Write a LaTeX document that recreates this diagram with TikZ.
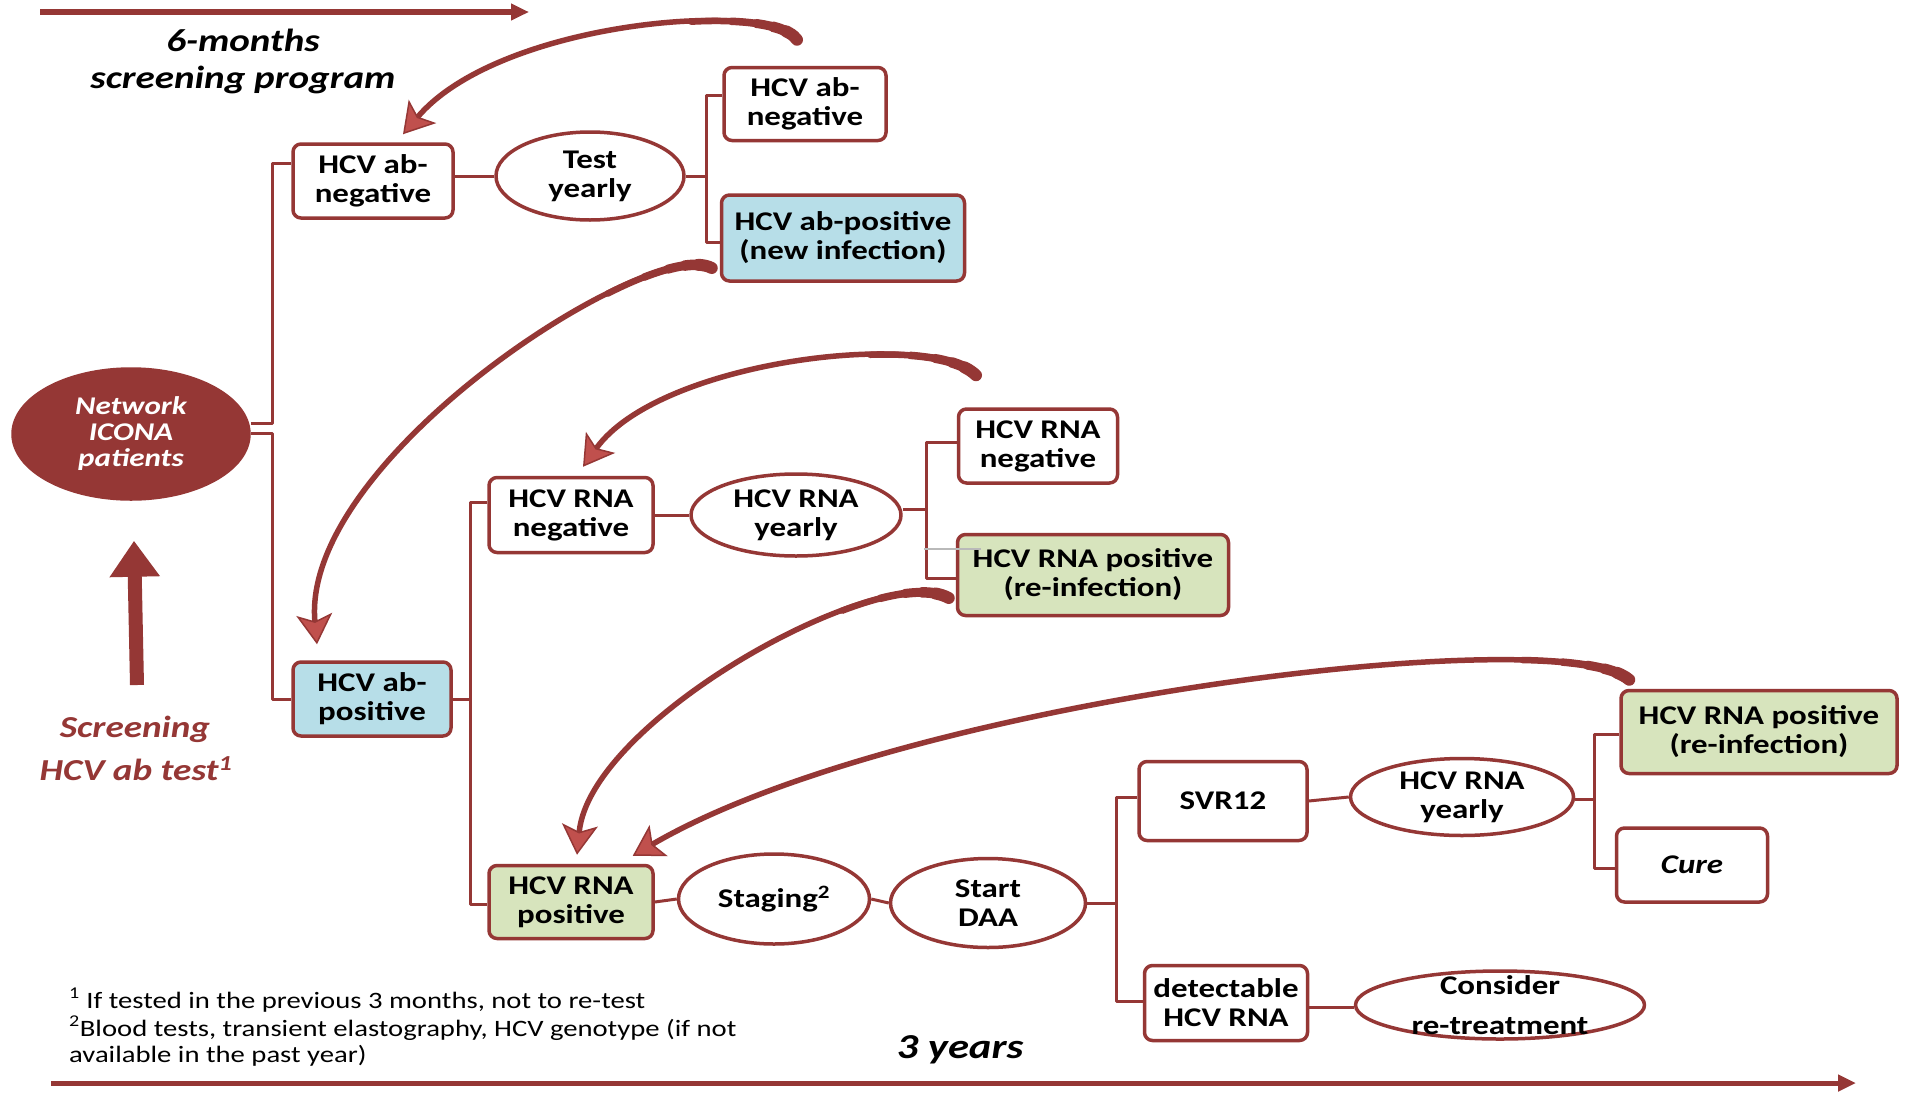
\documentclass[tikz,border=0pt]{standalone}
\usepackage{fontspec}
\setmainfont{Carlito}[FakeStretch=1.22]
\usepackage{tikz}
\usetikzlibrary{arrows.meta,shapes.geometric}
\definecolor{icona}{HTML}{953735}
\definecolor{icohead}{HTML}{C0504D}
\definecolor{abblue}{HTML}{B7DEE8}
\definecolor{rnagreen}{HTML}{D7E4BD}
\newcommand{\hcvfont}{\bfseries\fontsize{27}{29}\selectfont}
\tikzset{
  every picture/.style={line join=round, >=Stealth},
  box/.style={draw=icona, line width=3.5pt, rounded corners=8pt, fill=white, align=center, inner sep=3pt, font=\hcvfont},
  oval/.style={ellipse, draw=icona, line width=3.5pt, fill=white, align=center, inner sep=0pt, font=\hcvfont},
  link/.style={draw=icona, line width=3pt},
  tailpart/.style 2 args={preaction={draw=icona, -, line width=#1, line cap=round, dash pattern=on #2 off 4000pt}},
  bigarrow/.style={draw=icona, line width=5.5pt, line cap=butt, -{Stealth[length=30pt,width=36pt,inset=7pt,fill=icohead,line width=1.5pt]},
    tailpart={12pt}{14pt}, tailpart={10.5pt}{28pt}, tailpart={9pt}{45pt},
    tailpart={7.5pt}{70pt}, tailpart={6.5pt}{110pt}},
  timeline/.style={draw=icona, line width=5pt, -{Triangle[length=18pt,width=16pt]}},
  note/.style={anchor=base west, inner sep=0pt, font=\fontsize{23.5}{28}\selectfont},
}

\begin{document}
\begin{tikzpicture}[x=1pt,y=-1pt]
\useasboundingbox (0,0) rectangle (1908,1095);
\fill[white] (0,0) rectangle (1908,1095);
% time lines
\coordinate (top0) at (40,12);
\coordinate (top1) at (529,12);
\coordinate (bot0) at (51,1083);
\coordinate (bot1) at (1856,1083);
\draw[timeline, line width=6pt] (top0) -- (top1);
\draw[timeline] (bot0) -- (bot1);
\node[font=\bfseries\itshape\fontsize{32}{37}\selectfont, align=center] (sixmonths) at (243,61) {6-months\\screening program};
\node[anchor=base, font=\bfseries\itshape\fontsize{35}{38}\selectfont] (threeyears) at (960,1058) {3 years};
% start
\node[oval, fill=icona, text=white, minimum width=236pt, minimum height=130pt, font=\bfseries\itshape\fontsize{25.5}{26}\selectfont] (net) at (131,434) {Network\\ICONA\\patients};
\coordinate (scrbase) at (137,685);
\draw[draw=icona, line width=14pt, -{Triangle[length=36pt,width=48pt]}] (scrbase) -- ([shift={(3,40)}]net.south);
\node[anchor=base, text=icona, font=\bfseries\itshape\fontsize{30.5}{32}\selectfont] (screen1) at (135,737) {Screening};
\node[anchor=base, text=icona, font=\bfseries\itshape\fontsize{30.5}{32}\selectfont] (screen2) at (136,780) {HCV ab test\textsuperscript{1}};
% HCV ab branch
\node[box, minimum width=160pt, minimum height=74pt] (abneg) at (373,181) {HCV ab-\\negative};
\node[oval, minimum width=188pt, minimum height=88pt] (test) at (590,176) {Test\\yearly};
\node[box, minimum width=162pt, minimum height=73pt] (abneg2) at (805,104) {HCV ab-\\negative};
\node[box, fill=abblue, minimum width=243pt, minimum height=86pt] (abnew) at (843,238) {HCV ab-positive\\(new infection)};
\node[box, fill=abblue, minimum width=158pt, minimum height=74pt] (abpos) at (372,699) {HCV ab-\\positive};
% HCV RNA branch
\node[box, minimum width=164pt, minimum height=75pt] (rnaneg) at (571,515) {HCV RNA\\negative};
\node[oval, minimum width=210pt, minimum height=82pt] (rnayr) at (796,515) {HCV RNA\\yearly};
\node[box, minimum width=159pt, minimum height=74pt] (rnaneg2) at (1038,446) {HCV RNA\\negative};
\node[box, fill=rnagreen, minimum width=271pt, minimum height=81pt] (rnare) at (1093,575) {HCV RNA positive\\(re-infection)};
\node[box, fill=rnagreen, minimum width=164pt, minimum height=73pt] (rnapos) at (571,902) {HCV RNA\\positive};
% treatment
\node[oval, minimum width=191pt, minimum height=90pt] (staging) at (774,899) {Staging\textsuperscript{2}};
\node[oval, minimum width=195pt, minimum height=89pt] (daa) at (988,903) {Start\\DAA};
\node[box, minimum width=168pt, minimum height=79pt] (svr) at (1223,801) {SVR12};
\node[box, minimum width=163pt, minimum height=75pt] (detect) at (1226,1003) {detectable\\HCV RNA};
\node[oval, minimum width=223pt, minimum height=77pt] (svryr) at (1462,797) {HCV RNA\\yearly};
\node[oval, minimum width=289pt, minimum height=68pt, inner ysep=-6pt, font=\bfseries\fontsize{27}{40}\selectfont] (retreat) at (1500,1005) {Consider\\re-treatment};
\node[box, fill=rnagreen, minimum width=276pt, minimum height=83pt] (svrre) at (1759,732) {HCV RNA positive\\(re-infection)};
\node[box, minimum width=151pt, minimum height=74pt] (cure) at (1692,865) {\textit{Cure}};
% connectors
\draw[link] ([yshift=11pt]net.east) -- ++(22,0) |- ([yshift=18pt]abneg.west);
\draw[link] ([yshift=1pt]net.east) -- ++(22,0) |- (abpos.west);
\draw[link] (abneg.east |- test) -- (test.west);
\draw[link] (test.east) -- ++(21,0) coordinate (j1);
\draw[link] ([yshift=9pt]abneg2.west) -| (j1) |- ([yshift=-4pt]abnew.west);
\draw[link] (abpos.east) -- ++(18,0) coordinate (j2);
\draw[link] ([yshift=13pt]rnaneg.west) -| (j2) |- ([yshift=-2pt]rnapos.west);
\draw[link] (rnaneg.east) -- (rnayr.west);
\draw[link] ([yshift=6pt]rnayr.east) -- ++(24,0) coordinate (j3);
\draw[link] ([yshift=4pt]rnaneg2.west) -| (j3) |- ([yshift=-3pt]rnare.west);
\draw[link] (rnapos.east) -- (staging.west);
\draw[link] (staging.east) -- (daa.west);
\draw[link] (daa.east) -- ++(29,0) coordinate (j4);
\draw[link] ([yshift=4pt]svr.west) -| (j4) |- ([yshift=2pt]detect.west);
\draw[link] (svr.east) -- (svryr.west);
\draw[link] ([yshift=-4pt]detect.east) -- ([yshift=-2pt]retreat.west);
\draw[link] ([yshift=-2pt]svryr.east) -- ++(19,0) coordinate (j5);
\draw[link] ([yshift=-2pt]svrre.west) -| (j5) |- ([yshift=-3pt]cure.west);
\draw[gray!55, line width=1.5pt] (924,549) -- (981,549);
% loops back
\draw[bigarrow] ([shift={(-8,-26)}]abneg2.north) .. controls +(-27,-40) and +(97,-114) .. ([shift={(30,-8)}]abneg.north);
\draw[bigarrow] ([shift={(-8,30)}]abnew.west) .. controls +(-62,-33) and +(-17,-185) .. ([shift={(-55,-16)}]abpos.north);
\draw[bigarrow] ([shift={(-62,-32)}]rnaneg2.north) .. controls +(-46,-46) and +(77,-107) .. ([shift={(12,-9)}]rnaneg.north);
\draw[bigarrow] ([shift={(-7,23)}]rnare.west) .. controls +(-68,-38) and +(13,-135) .. ([shift={(6,-9)}]rnapos.north);
\draw[bigarrow] ([shift={(10,-9)}]svrre.north west) .. controls +(-70,-60) and +(267,-156) .. ([shift={(-22,-8)}]rnapos.north east);
% footnotes
\node[note] (fn1) at (69,1008) {\textsuperscript{1} If tested in the previous 3 months, not to re-test};
\node[note] (fn2) at (69,1036) {\textsuperscript{2}Blood tests, transient elastography, HCV genotype (if not};
\node[note] (fn3) at (69,1062) {available in the past year)};
\end{tikzpicture}
\end{document}
